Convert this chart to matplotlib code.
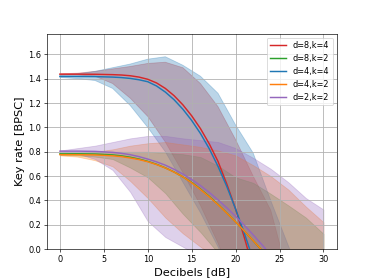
import matplotlib
matplotlib.use("Agg")
import matplotlib.pyplot as plt

# ---- data -------------------------------------------------------------
labels = ["d=8,k=4", "d=8,k=2", "d=4,k=4", "d=4,k=2", "d=2,k=2"]
colors = ["tab:red", "tab:green", "tab:blue", "tab:orange", "tab:purple"]

# mean curves (Decibels -> key rate)
line_x = [0, 2, 4, 6, 7, 8, 9, 10, 11, 12, 13, 14, 15, 16, 17, 18, 19, 20, 21, 22, 23, 24]
rate_d8k4 = [1.437, 1.437, 1.436, 1.433, 1.430, 1.424, 1.413, 1.395, 1.365, 1.320, 1.260, 1.185,
             1.095, 0.990, 0.865, 0.720, 0.535, 0.330, 0.095, -0.160, -0.420, -0.700]
rate_d8k2 = [0.783, 0.783, 0.781, 0.774, 0.766, 0.755, 0.740, 0.721, 0.697, 0.668, 0.634, 0.594,
             0.548, 0.493, 0.433, 0.367, 0.297, 0.224, 0.148, 0.070, -0.010, -0.090]
rate_d4k4 = [1.418, 1.418, 1.417, 1.413, 1.409, 1.402, 1.391, 1.375, 1.340, 1.290, 1.227, 1.149,
             1.057, 0.950, 0.825, 0.680, 0.515, 0.330, 0.130, -0.085, -0.310, -0.540]
rate_d4k2 = [0.776, 0.776, 0.774, 0.767, 0.760, 0.749, 0.736, 0.718, 0.695, 0.667, 0.633, 0.594,
             0.545, 0.490, 0.430, 0.365, 0.296, 0.224, 0.149, 0.071, -0.009, -0.090]
rate_d2k2 = [0.805, 0.805, 0.803, 0.795, 0.787, 0.776, 0.760, 0.740, 0.717, 0.690, 0.656, 0.617,
             0.572, 0.522, 0.466, 0.405, 0.340, 0.270, 0.196, 0.118, 0.037, -0.046]

# spread bands
band_x = [0, 2, 4, 6, 8, 10, 12, 14, 16, 18, 20, 22, 24, 26, 28, 30]
hi_d8k4 = [1.44, 1.445, 1.46, 1.48, 1.50, 1.525, 1.535, 1.49, 1.36, 1.17, 0.90, 0.60, 0.32, -0.22, -0.6, -0.9]
lo_d8k4 = [1.43, 1.43, 1.42, 1.36, 1.24, 1.09, 0.88, 0.63, 0.36, 0.05, -0.30, -0.6, -0.9, -1.2, -1.5, -1.8]
hi_d8k2 = [0.785, 0.79, 0.795, 0.80, 0.80, 0.80, 0.79, 0.78, 0.757, 0.685, 0.59, 0.545, 0.455, 0.36, 0.26, 0.127]
lo_d8k2 = [0.775, 0.77, 0.76, 0.74, 0.67, 0.59, 0.46, 0.29, 0.14, -0.03, -0.2, -0.4, -0.6, -0.8, -1.0, -1.2]
hi_d4k4 = [1.43, 1.44, 1.46, 1.49, 1.52, 1.56, 1.58, 1.51, 1.42, 1.28, 1.02, 0.79, 0.40, 0.03, -0.3, -0.6]
lo_d4k4 = [1.41, 1.40, 1.385, 1.32, 1.18, 1.00, 0.80, 0.55, 0.30, 0.02, -0.30, -0.6, -0.9, -1.2, -1.5, -1.8]
hi_d4k2 = [0.78, 0.79, 0.80, 0.82, 0.85, 0.87, 0.88, 0.86, 0.84, 0.81, 0.77, 0.69, 0.60, 0.49, 0.35, 0.222]
lo_d4k2 = [0.77, 0.76, 0.73, 0.68, 0.56, 0.42, 0.26, 0.13, 0.02, -0.08, -0.2, -0.4, -0.6, -0.8, -1.0, -1.2]
hi_d2k2 = [0.81, 0.83, 0.85, 0.88, 0.91, 0.93, 0.93, 0.91, 0.895, 0.88, 0.83, 0.75, 0.66, 0.55, 0.42, 0.326]
lo_d2k2 = [0.80, 0.785, 0.74, 0.65, 0.47, 0.23, 0.10, 0.02, -0.06, -0.2, -0.3, -0.5, -0.7, -0.9, -1.1, -1.3]

rates = [rate_d8k4, rate_d8k2, rate_d4k4, rate_d4k2, rate_d2k2]
his = [hi_d8k4, hi_d8k2, hi_d4k4, hi_d4k2, hi_d2k2]
los = [lo_d8k4, lo_d8k2, lo_d4k4, lo_d4k2, lo_d2k2]

# ---- figure -----------------------------------------------------------
dpi = 58.4375
fig = plt.figure(figsize=(374 / dpi, 280 / dpi), dpi=dpi)
ax = fig.add_subplot(111)

for lab, col, r, hi, lo in zip(labels, colors, rates, his, los):
    ax.plot(line_x, r, color=col, lw=1.8, label=lab)
    ax.fill_between(band_x, lo, hi, color=col, alpha=0.3)

ax.set_xlim(-1.5, 31.5)
ax.set_ylim(0, 1.77)
ax.set_xticks([0, 5, 10, 15, 20, 25, 30])
ax.set_yticks([0.0, 0.2, 0.4, 0.6, 0.8, 1.0, 1.2, 1.4, 1.6])
ax.grid(True, color="#b0b0b0", lw=1.0)
ax.set_xlabel("Decibels [dB]", fontsize=14)
ax.set_ylabel("Key rate [BPSC]", fontsize=14)
ax.legend(loc="upper right")

fig.savefig("out.png", dpi=dpi)
